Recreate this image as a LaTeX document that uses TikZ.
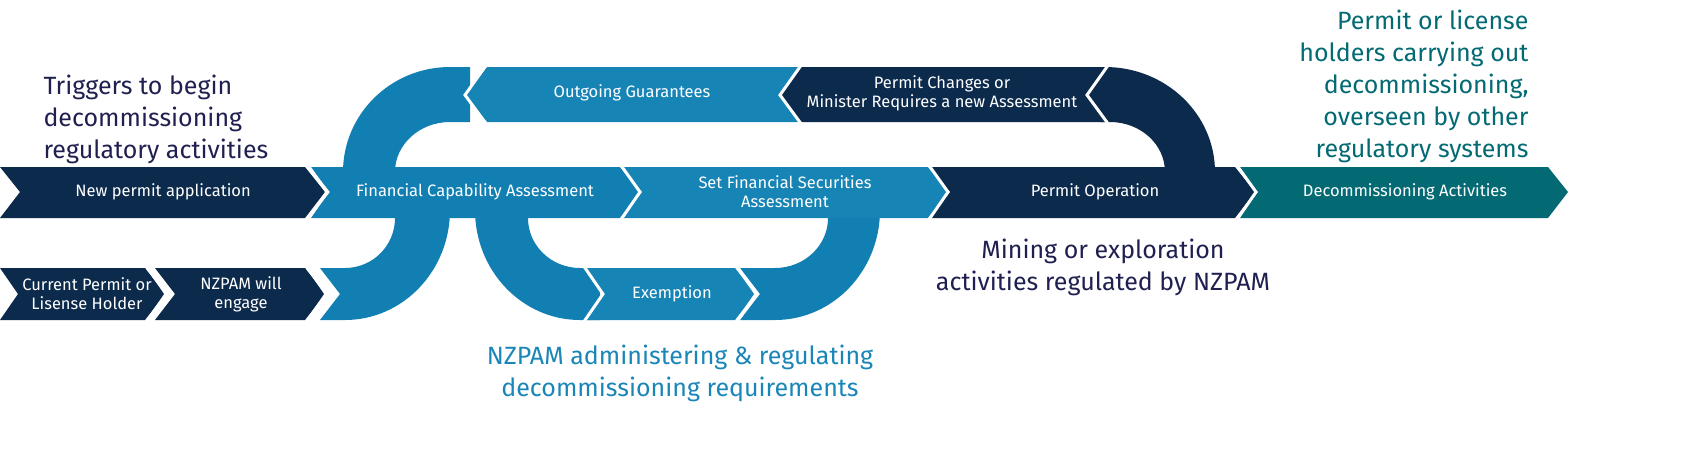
\documentclass[tikz,border=0pt]{standalone}
\usepackage{fontspec}
\setmainfont{Fira Sans}
\definecolor{navy}{HTML}{0B2A4C}
\definecolor{lb}{HTML}{1784B6}
\definecolor{arcb}{HTML}{127FB3}
\definecolor{teal}{HTML}{036A73}
\definecolor{ttl}{HTML}{1F2050}
\definecolor{tblue}{HTML}{1A86B8}
\begin{document}
\begin{tikzpicture}[x=1pt,y=-1pt,
  lbl/.style={text=white,font=\fontsize{16.5}{19}\selectfont,align=center},
  big/.style={font=\fontsize{25}{32}\selectfont,align=center},
  cut/.style={white,line width=3pt}]
\useasboundingbox (0,0) rectangle (1700,456);
% arcs
\fill[arcb] (343,172) arc[start angle=180,end angle=270,x radius=107,y radius=105] -- (470,67) -- (470,122) -- (450,122) arc[start angle=270,end angle=180,x radius=55,y radius=50] -- cycle;
\fill[arcb] (450,210) arc[start angle=0,end angle=90,x radius=105,y radius=110] -- (320,320) -- (340,294) -- (320,268) -- (345,268) arc[start angle=90,end angle=0,x radius=50,y radius=50] -- cycle;
\fill[arcb] (475,210) arc[start angle=180,end angle=90,x radius=105,y radius=110] -- (600,320) -- (600,268) -- (580,268) arc[start angle=90,end angle=180,x radius=52,y radius=50] -- cycle;
\fill[arcb] (880,210) arc[start angle=0,end angle=90,x radius=105,y radius=110] -- (740,320) -- (760,294) -- (740,268) -- (775,268) arc[start angle=90,end angle=0,x radius=53,y radius=50] -- cycle;
\fill[navy] (1215,172) arc[start angle=0,end angle=-90,x radius=110,y radius=105] -- (1100,67) -- (1100,122) -- (1110,122) arc[start angle=-90,end angle=0,x radius=55,y radius=50] -- cycle;
% top band
\fill[lb] (465,95) -- (487,67) -- (800,67) -- (800,122) -- (487,122) -- cycle;
\fill[navy] (780,95) -- (800,67) -- (1110,67) -- (1110,122) -- (800,122) -- cycle;
\draw[cut] (487,64) -- (465,95) -- (487,125);
\draw[cut] (802,64) -- (780,95) -- (802,125);
\draw[cut] (1109,64) -- (1087,95) -- (1109,125);
\node[lbl] (og) at (632,93) {Outgoing Guarantees};
\node[lbl] (pc) at (942,93) {Permit Changes or\\Minister Requires a new Assessment};
% middle band
\fill[navy] (0,167) -- (305,167) -- (325,192) -- (305,218) -- (0,218) -- (20,192) -- cycle;
\fill[arcb] (310,167) -- (620,167) -- (640,192) -- (620,218) -- (310,218) -- (330,192) -- cycle;
\fill[lb] (622,167) -- (928,167) -- (948,192) -- (928,218) -- (622,218) -- (642,192) -- cycle;
\fill[navy] (930,167) -- (1235,167) -- (1255,192) -- (1235,218) -- (930,218) -- (950,192) -- cycle;
\fill[teal] (1238,167) -- (1548,167) -- (1568,192) -- (1548,218) -- (1238,218) -- (1258,192) -- cycle;
\draw[cut] (307,164) -- (327,192) -- (307,221);
\draw[cut] (620,164) -- (640,192) -- (620,221);
\draw[cut] (928,164) -- (948,192) -- (928,221);
\draw[cut] (1236,164) -- (1256,192) -- (1236,221);
\node[lbl] (np) at (163,192) {New permit application};
\node[lbl] (fc) at (475,192) {Financial Capability Assessment};
\node[lbl] (sf) at (785,192) {Set Financial Securities\\Assessment};
\node[lbl] (po) at (1095,192) {Permit Operation};
\node[lbl] (da) at (1405,192) {Decommissioning Activities};
% bottom band
\fill[navy] (0,268) -- (145,268) -- (165,294) -- (145,320) -- (0,320) -- (18,294) -- cycle;
\fill[navy] (155,268) -- (305,268) -- (325,294) -- (305,320) -- (155,320) -- (175,294) -- cycle;
\draw[cut] (146,265) -- (166,294) -- (146,323);
\draw[cut] (306,265) -- (326,294) -- (306,323);
\fill[lb] (583,268) -- (735,268) -- (755,294) -- (735,320) -- (583,320) -- (603,294) -- cycle;
\draw[cut] (583,265) -- (603,294) -- (583,323);
\draw[cut] (736,265) -- (756,294) -- (736,323);
\node[lbl] (cp) at (87,294) {Current Permit or\\Lisense Holder};
\node[lbl] (ne) at (241,294) {NZPAM will\\engage};
\node[lbl] (ex) at (672,294) {Exemption};
% big texts
\node[big,ttl,anchor=north west,align=left] (tr) at (40,71) {Triggers to begin\\decommissioning\\regulatory activities};
\node[big,ttl] (mi) at (1103,267) {Mining or exploration\\activities regulated by NZPAM};
\node[big,tblue] (na) at (680,373) {NZPAM administering \& regulating\\decommissioning requirements};
\node[big,teal,anchor=north east,align=right] (ph) at (1532,6) {Permit or license\\holders carrying out\\decommissioning,\\overseen by other\\regulatory systems};
\end{tikzpicture}
\end{document}
